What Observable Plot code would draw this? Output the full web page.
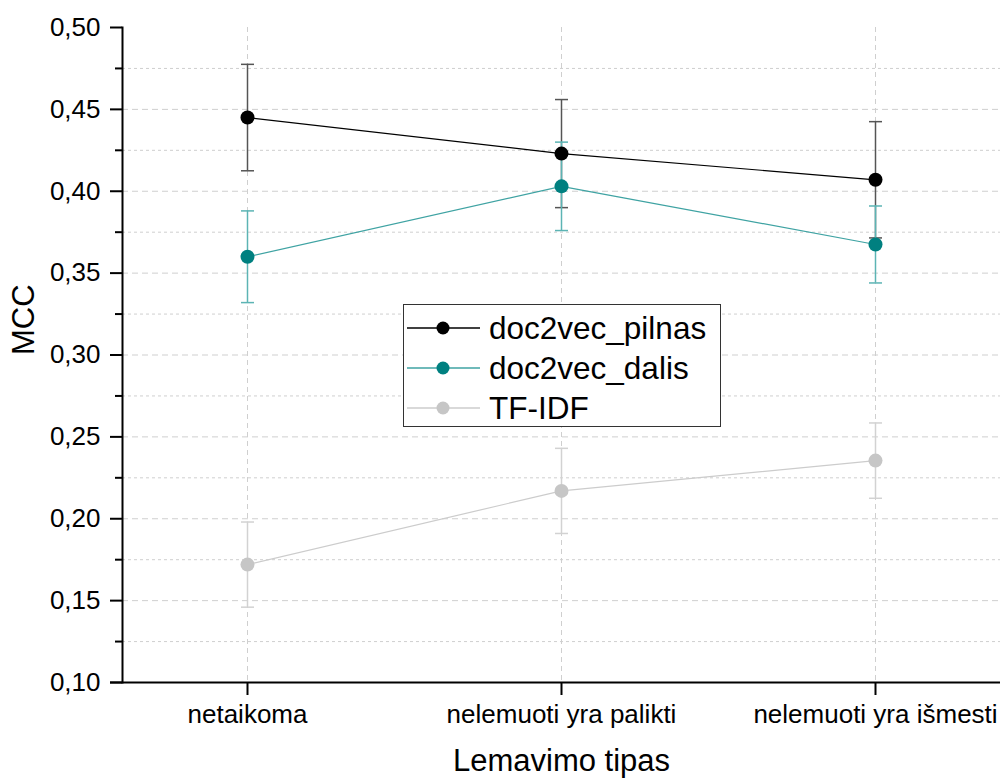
<!DOCTYPE html>
<html>
<head>
<meta charset="utf-8">
<script src="https://cdn.jsdelivr.net/npm/d3@7"></script>
<script src="https://cdn.jsdelivr.net/npm/@observablehq/plot@0.6"></script>
<style>
  html, body { margin: 0; padding: 0; background: #fff; }
  #wrap { position: relative; width: 1000px; height: 778px; font-family: "Liberation Sans", Arial, sans-serif; }
  #legend { position: absolute; left: 403px; top: 304px; width: 318px; height: 123px; border: 1px solid #333; background: #fff; box-sizing: border-box; padding-top: 3px; }
  .row { display: flex; align-items: center; height: 40px; }
  .row svg { margin-left: 3px; margin-right: 9px; }
  .row span { font-size: 31.5px; color: #000; line-height: 40px; }
</style>
</head>
<body>
<div id="wrap"><div id="chart"></div><div id="legend"></div></div>
<script>
const categories = ["netaikoma", "nelemuoti yra palikti", "nelemuoti yra išmesti"];
const seriesNames = ["doc2vec_pilnas", "doc2vec_dalis", "TF-IDF"];
const pilnasMean = [0.445, 0.423, 0.407];
const pilnasErr = [0.0325, 0.033, 0.0355];
const dalisMean = [0.360, 0.403, 0.3675];
const dalisErr = [0.028, 0.027, 0.0235];
const tfidfMean = [0.172, 0.217, 0.2355];
const tfidfErr = [0.026, 0.026, 0.023];
const yMajorTicks = [0.10, 0.15, 0.20, 0.25, 0.30, 0.35, 0.40, 0.45, 0.50];
const yMinorTicks = [0.125, 0.175, 0.225, 0.275, 0.325, 0.375, 0.425, 0.475];

const styles = {
  "doc2vec_pilnas": {line: "#000000", dot: "#000000", err: "#555555"},
  "doc2vec_dalis": {line: "#3fa3a3", dot: "#008080", err: "#5cb4b4"},
  "TF-IDF": {line: "#cccccc", dot: "#c6c6c6", err: "#d2d2d2"}
};
const means = [pilnasMean, dalisMean, tfidfMean];
const errs = [pilnasErr, dalisErr, tfidfErr];

const rowsBySeries = seriesNames.map((s, k) => categories.map((c, i) => ({
  series: s, cat: c, mean: means[k][i], lo: means[k][i] - errs[k][i], hi: means[k][i] + errs[k][i]
})));

const fmt = d => d.toFixed(2).replace(".", ",");
const capSymbol = {draw(context) { context.moveTo(-6.5, 0); context.lineTo(6.5, 0); }};

const marks = [
  Plot.gridY(yMinorTicks, {stroke: "#cfcfcf", strokeOpacity: 1, strokeDasharray: "3,3"}),
  Plot.gridY(yMajorTicks.filter(d => d > 0.1 && d < 0.5), {stroke: "#cfcfcf", strokeOpacity: 1, strokeDasharray: "6,4"}),
  Plot.gridX(categories, {stroke: "#cfcfcf", strokeOpacity: 1, strokeDasharray: "5,4"})
];
rowsBySeries.forEach(rows => {
  const st = styles[rows[0].series];
  marks.push(Plot.ruleX(rows, {x: "cat", y1: "lo", y2: "hi", stroke: st.err, strokeWidth: 1.5}));
  marks.push(Plot.dot(rows, {x: "cat", y: "lo", symbol: capSymbol, stroke: st.err, strokeWidth: 1.5, fill: "none"}));
  marks.push(Plot.dot(rows, {x: "cat", y: "hi", symbol: capSymbol, stroke: st.err, strokeWidth: 1.5, fill: "none"}));
});
rowsBySeries.forEach(rows => {
  const st = styles[rows[0].series];
  marks.push(Plot.line(rows, {x: "cat", y: "mean", stroke: st.line, strokeWidth: 1.2}));
});
rowsBySeries.forEach(rows => {
  const st = styles[rows[0].series];
  marks.push(Plot.dot(rows, {x: "cat", y: "mean", r: 7, fill: st.dot, stroke: "none"}));
});
marks.push(
  Plot.axisY(yMinorTicks, {tickSize: 7, tickFormat: () => "", strokeWidth: 2, label: null}),
  Plot.axisY(yMajorTicks, {tickSize: 12, tickPadding: 10, tickFormat: fmt, strokeWidth: 2, fontSize: 26, label: null}),
  Plot.axisX(categories, {tickSize: 13, tickPadding: 9, strokeWidth: 2, fontSize: 26, label: null}),
  Plot.frame({anchor: "left", strokeWidth: 2, stroke: "#000"}),
  Plot.ruleY([0.1], {strokeWidth: 2, stroke: "#000", insetLeft: -12}),
  Plot.text(["MCC"], {frameAnchor: "left", dx: -98, rotate: -90, fontSize: 31, fill: "#000"}),
  Plot.text(["Lemavimo tipas"], {frameAnchor: "bottom", lineAnchor: "middle", dy: 79, fontSize: 31, fill: "#000"})
);

const chart = Plot.plot({
  width: 1000, height: 778,
  marginLeft: 122, marginRight: 0, marginTop: 27, marginBottom: 96,
  style: {fontFamily: "'Liberation Sans', Arial, sans-serif", fontSize: "26px", color: "#000", background: "#fff", overflow: "visible"},
  x: {type: "point", domain: categories, padding: 0.395, label: null, axis: null},
  y: {domain: [0.1, 0.5], label: null, axis: null},
  marks
});
document.getElementById("chart").appendChild(chart);

const legend = document.getElementById("legend");
seriesNames.forEach(s => {
  const st = styles[s];
  const row = document.createElement("div");
  row.className = "row";
  row.innerHTML = `<svg width="73" height="20"><line x1="0" y1="10" x2="73" y2="10" stroke="${st.line}" stroke-width="1.3"/><circle cx="36" cy="10" r="6.5" fill="${st.dot}"/></svg><span>${s}</span>`;
  legend.appendChild(row);
});
</script>
</body>
</html>
